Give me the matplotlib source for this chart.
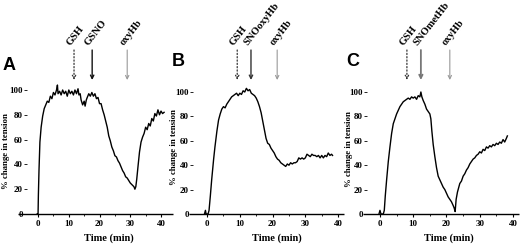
import matplotlib
matplotlib.use("Agg")
import matplotlib.pyplot as plt
import numpy as np

# ---------------- data ----------------
a_time = [-0.3, 0.0, 0.1, 0.3, 0.6, 1.0, 1.5, 2.0, 2.5, 3.0, 3.5, 4.0, 4.5, 5.0, 5.5, 6.0, 6.3, 6.5,
          7.0, 7.5, 8.0, 8.5, 9.0, 9.5, 10.0, 10.5, 11.0, 11.5, 12.0, 12.5, 13.0, 13.3, 13.7, 14.0, 14.5,
          15.0, 15.3, 15.7, 16.0, 16.5, 17.0, 17.5, 18.0, 18.5, 19.0, 19.5, 20.0, 20.5, 21.0, 21.5, 22.0,
          22.5, 23.0, 23.5, 24.0, 24.5, 25.0, 25.5, 26.0, 26.5, 27.0, 27.5, 28.0, 28.5, 29.0, 29.5,
          30.0, 30.4, 30.8, 31.2, 31.5, 31.8, 32.1, 32.5, 33.0, 33.5, 34.0, 34.5, 35.0, 35.5, 36.0,
          36.5, 37.0, 37.5, 38.0, 38.5, 39.0, 39.5, 40.0, 40.5, 41.0]
a_value = [0, 0, 15, 35, 58, 70, 79, 85, 88, 91, 90, 95, 93, 98, 96, 100, 104, 97,
           99, 96, 100, 97, 99, 95, 100, 97, 99, 96, 100, 97, 101, 96, 97, 92, 88,
           91, 87, 92, 94, 97, 95, 98, 95, 97, 93, 94, 89, 89, 84, 80, 75,
           70, 63, 59, 54, 51, 47, 46, 43, 41, 38, 35, 33, 30, 29, 27,
           25, 24, 23, 22, 20, 22, 28, 38, 50, 58, 62, 65, 70, 68, 73,
           71, 77, 75, 81, 79, 84, 80, 83, 81, 82]

b_time = [-0.8, -0.5, -0.3, 0.3, 0.6, 1.0, 1.4, 2.0, 2.4, 3.0, 3.5, 4.0, 4.5, 5.0, 5.5, 6.0, 6.5, 7.0,
          7.5, 8.0, 8.5, 9.0, 9.5, 10.0, 10.5, 11.0, 11.5, 12.0, 12.5, 13.0, 13.5, 14.0, 14.5, 15.0,
          15.5, 16.0, 16.5, 17.0, 17.5, 18.0, 18.5, 19.0, 19.5, 20.0, 20.5, 21.0, 21.5, 22.0, 22.5,
          23.0, 23.5, 24.0, 24.5, 25.0, 25.5, 26.0, 26.5, 27.0, 27.5, 28.0, 28.5, 29.0, 29.5, 30.0,
          30.5, 31.0, 31.5, 32.0, 32.5, 33.0, 33.5, 34.0, 34.5, 35.0, 35.5, 36.0, 36.5, 37.0, 37.5,
          38.0, 38.3]
b_value = [0, 3, 0, 0, 3, 15, 28, 45, 55, 68, 77, 82, 86, 88, 87, 90, 92, 94,
           96, 97, 98, 99, 97, 99, 98, 101, 100, 103, 101, 102, 99, 98, 97, 95,
           92, 88, 83, 76, 69, 62, 58, 57, 54, 52, 50, 47, 45, 44, 42,
           41, 40, 39, 41, 40, 42, 41, 42, 42, 43, 46, 45, 46, 45, 46,
           49, 48, 47, 49, 48, 48, 47, 48, 46, 48, 46, 48, 47, 50, 48,
           49, 48]

c_time = [-0.3, 0.0, 0.3, 1.0, 1.3, 1.6, 2.0, 2.5, 3.0, 3.5, 4.0, 4.5, 5.0, 5.5, 6.0, 6.5, 7.0, 7.5,
          8.0, 8.5, 9.0, 9.5, 10.0, 10.5, 11.0, 11.5, 12.0, 12.3, 12.6, 13.0, 13.5, 14.0, 14.5, 15.0,
          15.3, 15.6, 16.0, 16.5, 17.0, 17.5, 18.0, 18.5, 19.0, 19.5, 20.0, 20.5, 21.0, 21.5, 22.0,
          22.3, 22.6, 22.9, 23.3, 24.0, 24.5, 25.0, 25.5, 26.0, 26.5, 27.0, 27.5, 28.0, 28.5, 29.0,
          29.5, 30.0, 30.5, 31.0, 31.5, 32.0, 32.5, 33.0, 33.5, 34.0, 34.5, 35.0, 35.5, 36.0, 36.5,
          37.0, 37.5, 38.0, 38.3]
c_value = [0, 3, 0, 0, 3, 15, 28, 43, 55, 66, 74, 78, 82, 85, 88, 90, 92, 93,
           94, 95, 94, 96, 95, 96, 94, 97, 96, 100, 96, 93, 90, 86, 84, 82,
           78, 68, 57, 47, 38, 31, 28, 25, 22, 20, 17, 14, 12, 10, 7,
           5, 2, 12, 18, 25, 27, 31, 33, 36, 38, 41, 43, 45, 46, 48,
           49, 51, 50, 53, 52, 55, 54, 56, 55, 57, 56, 58, 57, 59, 58,
           61, 59, 62, 64]

panel_letters = ["A", "B", "C"]
arrow_labels = [["GSH", "GSNO", "oxyHb"],
                ["GSH", "SNOoxyHb", "oxyHb"],
                ["GSH", "SNOmetHb", "oxyHb"]]
arrow_times = [[11.7, 17.6, 29.0],
               [9.2, 13.4, 21.4],
               [8.1, 12.3, 21.0]]
x_ticks = [0, 10, 20, 30, 40]
y_ticks = [0, 20, 40, 60, 80, 100]

# ---------------- figure ----------------
W, H = 520, 246
fig = plt.figure(figsize=(W / 100, H / 100), dpi=100)
serif = "Liberation Serif"

# axes boxes in pixels: left, right, px of y=0 (from top), px of y=100 (from top)
boxes = [(27, 173, 214, 90), (193, 344, 214, 92), (367, 519, 214, 92)]
xlims = [(-3.6, 43.9), (-4.3, 41.8), (-3.9, 41.8)]
axis_ext = [9, 4, 4]  # px the x-axis line extends left of the y ticks
series = [(a_time, a_value), (b_time, b_value), (c_time, c_value)]
xlabel_px = [109, 277, 449]
ylabel_px = [(6, 151), (174, 147), (349, 149)]
letter_px = [(9, 66), (178, 61), (353, 61)]
arrow_styles = [(":", "#333333", 0.9), ("-", "#111111", 0.9), ("-", "#999999", 0.8)]
second_colors = ["#111111", "#333333", "#777777"]

for i in range(3):
    l, r, y0, y100 = boxes[i]
    ax = fig.add_axes([l / W, (H - y0) / H, (r - l) / W, (y0 - y100) / H])
    t, v = series[i]
    ax.plot(t, v, color="black", lw=1.0, clip_on=False)
    ax.set_xlim(*xlims[i])
    ax.set_ylim(0, 100)
    for s in ["top", "right", "left", "bottom"]:
        ax.spines[s].set_visible(False)
    ext = axis_ext[i] / (r - l)
    ax.plot([-ext, 1.0], [0, 0], transform=ax.transAxes, color="black", lw=1.0,
            clip_on=False, solid_capstyle="butt")
    ax.set_xticks(x_ticks)
    ax.set_xticks([5, 15, 25, 35], minor=True)
    ax.set_yticks(y_ticks)
    ax.tick_params(axis="x", which="major", length=2.5, width=0.8, pad=2, labelsize=6.5)
    ax.tick_params(axis="x", which="minor", length=1.5, width=0.6)
    ax.tick_params(axis="y", length=2, width=0.6, pad=1, labelsize=6.5)
    for lab in ax.get_xticklabels() + ax.get_yticklabels():
        lab.set_fontfamily(serif)
        lab.set_fontweight("bold")

    # arrows + labels
    for j in range(3):
        ls, col, lw = arrow_styles[j]
        if j == 1:
            col = second_colors[i]
            lw = 1.0 if i < 2 else 1.3
        tt = arrow_times[i][j]
        ax.annotate("", xy=(tt, H - 80), xytext=(tt, H - 50),
                    xycoords=("data", "figure pixels"), textcoords=("data", "figure pixels"),
                    arrowprops=dict(arrowstyle="->", color=col, lw=lw, linestyle=ls,
                                    shrinkA=0, shrinkB=0, mutation_scale=6),
                    annotation_clip=False)
        ax.annotate(arrow_labels[i][j], xy=(tt, H - 47), xycoords=("data", "figure pixels"),
                    rotation=52, rotation_mode="anchor", ha="left", va="bottom",
                    fontsize=7.6, fontfamily=serif, fontweight="bold",
                    xytext=(-2, 0), textcoords="offset pixels", annotation_clip=False)

    fig.text(xlabel_px[i] / W, 1 - 238 / H, "Time (min)", ha="center", va="center",
             fontsize=7.5, fontfamily=serif, fontweight="bold")
    fig.text(ylabel_px[i][0] / W, 1 - ylabel_px[i][1] / H, "% change in tension",
             rotation=90, ha="center", va="center", fontsize=6.3,
             fontfamily=serif, fontweight="bold")
    fig.text(letter_px[i][0] / W, 1 - letter_px[i][1] / H, panel_letters[i],
             ha="center", va="center", fontsize=13, fontfamily="Liberation Sans",
             fontweight="bold")

fig.savefig("out.png", dpi=100)
